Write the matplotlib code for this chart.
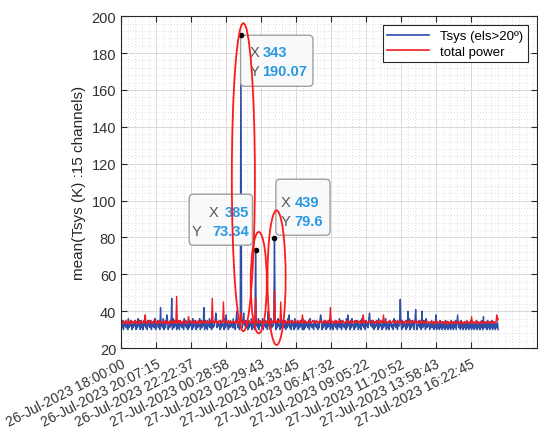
import numpy as np
import matplotlib
matplotlib.use("Agg")
import matplotlib.pyplot as plt
from matplotlib.patches import Ellipse, FancyBboxPatch
from matplotlib.lines import Line2D
from matplotlib.ticker import MultipleLocator

plt.rcParams['font.family'] = ['Liberation Sans', 'DejaVu Sans']

# Tsys (blue), one value every 2 samples (odd sample numbers 1..1079)
tsys_text = """
33 31 35 30 34 32 35 31 33 30 36 31 34 32 35 30 33 31 34 32
35 30 33 31 36 32 34 30 35 31 33 30 34 32 36 31 33 30 35 32
34 31 35 30 33 32 34 31 36 30 33 32 35 31 34 30 35 32 33 31
36 30 34 31 33 32 35 30 34 31 35 32 33 30 36 31 34 32 35 30
33 31 34 30 35 32 33 31 34 30 36 32 35 31 33 30 34 31 35 32
34 30 36 31 33 32 35 30 34 31 33 32 36 30 35 31 34 32 33 30
35 31 33 30 34 32 36 31 35 30 34 31 33 32 35 30 36 31 34 32
33 30 35 31 34 32 33 30 36 31 35 32 34 30 33 31 35 32 34 31
36 31 34 30 35 32 34 31 33 30 35 32 36 31 34 30 33 32 35 31
34 30 35 31 33 32 36 30 34 31 35 30 33 32 34 31 36 30 35 32
33 31 36 30 34 32 35 31 33 30 34 32 35 30 36 31 33 32 34 30
35 30 34 31 36 32 33 30 35 31 34 32 33 31 35 30 34 31 36 32
34 31 33 30 35 32 34 30 36 31 33 32 35 30 34 31 35 32 33 30
36 30 35 31 34 32 33 31 35 30 36 32 34 31 33 30 35 32 34 31
33 30 34 31 35 32 36 30 33 31 34 32 35 30 34 31 33 32 36 30
35 31 33 30 34 32 35 31 34 30 33 32 36 31 35 30 34 32 33 31
34 30 36 31 33 32 34 30 35 31 36 32 33 30 34 31 35 32 34 30
33 31 35 30 36 32 34 31 33 30 35 32 34 31 36 30 33 32 35 31
35 30 34 31 33 32 35 30 36 31 34 32 33 30 35 31 34 32 36 30
34 31 33 30 35 32 34 31 33 30 36 32 35 31 34 30 33 32 35 31
33 30 35 31 34 32 33 30 35 31 34 32 36 30 33 31 35 32 34 30
35 31 34 30 33 32 35 31 34 30 33 31 35 32 34 30 36 31 33 32
34 30 33 31 35 31 34 30 33 31 35 30 34 31 33 30 35 31 34 30
33 31 34 30 35 31 33 30 34 31 33 30 35 31 34 30 33 31 35 30
34 30 33 31 34 30 35 31 33 30 34 31 33 30 35 31 34 30 33 31
35 30 34 31 33 30 34 31 35 30 33 31 34 30 33 31 35 30 34 31
33 31 34 30 35 31 33 30 34 31 35 30 33 31 34 30 33 31 34 30
"""

# total power (red), same sampling
power_text = """
33.5 34 33 34.5 34 33.5 35 34 33.5 34.5 34 33 34 35 33.5 34 34.5 33.5 34 35
34 33.5 34.5 34 33 34 35 33.5 34 34.5 33.5 34 35 34 33.5 34.5 34 33 34.5 34
35 34 33.5 34 34.5 33.5 34 35.5 34 33.5 34 34.5 33 34 35 34 33.5 34.5 34 33.5
34 34.5 33.5 35 34 33.5 34.5 34 33 34 35 34 33.5 34.5 34 33.5 35 34 33.5 34
33.5 34 35 34 33.5 34.5 34 33 34.5 35 34 33.5 34 34.5 33.5 34 35 34.5 34 33.5
34.5 34 33.5 34 35 34 33.5 34.5 34 33.5 35 34 33 34.5 34 35 33.5 34 34.5 34
34 33.5 34.5 35 34 33.5 34 34.5 35 34 33.5 34 34.5 33.5 34 35 34 33.5 34.5 34
35 34 33.5 34 34.5 34 33 34 35 34.5 34 33.5 34 35 34 33.5 34.5 34 33.5 34.5
34 34.5 34 33.5 35 34 34.5 33.5 34 35 34 33.5 34.5 34 33 34.5 35 34 33.5 34
33.5 34 35 34.5 34 33.5 34 35 34 33.5 34.5 34 35 33.5 34 34.5 34 33.5 35 34
34.5 34 33.5 34 35 34 33.5 34.5 34 35 33.5 34 34.5 34 33.5 35 34 34.5 33.5 34
34 35 34 33.5 34.5 34 35 34 33.5 34 34.5 35 34 33.5 34 34.5 33.5 34 35 34
33.5 34.5 34 35 34 33.5 34 34.5 35 34 33.5 34 35 34.5 34 33.5 34 35 34 33.5
34 33.5 35 34 34.5 34 33.5 34 35 34.5 34 33.5 34 34.5 35 34 33.5 34.5 34 35
34.5 34 33.5 34.5 34 35 34 33.5 34 34.5 35 34 33.5 34 34.5 34 35 33.5 34 34.5
34 35 34 33.5 34.5 34 33.5 35 34 34.5 33.5 34 35 34 33.5 34.5 34 35 34 33.5
33.5 34 34.5 35 34 33.5 34.5 34 35 34 33.5 34 34.5 34 35 33.5 34 34.5 35 34
34 34.5 34 33.5 35 34 34.5 33.5 34 35 34.5 34 33.5 34 34.5 35 34 33.5 34 34.5
35 34 33.5 34.5 34 35 34 33.5 34.5 34 33.5 35 34 34.5 34 33.5 34 35 34.5 34
34 33.5 34.5 34 35 34 33.5 34 34.5 35 34 33.5 34.5 34 33.5 35 34 34.5 34 33.5
33.5 34 35 34 33.5 34.5 34 35 34 33.5 34 34.5 33.5 34 35 34 33.5 34.5 34 35
34.5 34 33.5 34 34.5 33.5 34 35 33.5 34 34.5 34 33.5 34 35 34 33.5 34 34.5 34
34 33.5 34 34.5 33.5 34 33 34.5 34 33.5 34 35 34 33.5 34 34.5 33.5 34 33.5 34.5
33.5 34 34.5 33.5 34 33 34 34.5 33.5 34 33.5 34.5 34 33 34 34.5 33.5 34 34.5 33.5
34 33.5 34 34.5 33.5 34 34.5 33.5 34 33 34 34.5 33.5 34 34.5 34 33.5 34 33.5 34.5
33.5 34 33.5 34.5 34 33.5 34 34.5 33.5 34 34.5 33.5 34 33 34.5 34 33.5 34 34.5 34
34 33.5 34.5 34 33.5 34 34.5 33.5 34 34.5 33.5 34 33.5 34.5 34 33.5 34 34.5 35 36
"""

# spikes (sample number, value)
tsys_spike_idx = [113, 131, 145, 237, 271, 301, 331, 343, 351, 385, 421, 439,
                  481, 571, 649, 711, 799, 821, 843, 861, 901, 963, 1037]
tsys_spike_val = [42, 38, 47, 42, 39, 38, 40, 190.07, 39, 73.34, 40, 79.6,
                  38, 38, 38, 39, 46.5, 40, 41, 40, 38, 38, 37]
power_spike_idx = [69, 159, 193, 261, 293, 343, 385, 439, 457, 519, 599, 693,
                   751, 1003, 1075]
power_spike_val = [38, 48, 37, 47, 45, 39, 47, 51, 45, 38, 42, 38, 38, 37, 38]

tip_idx = [343, 385, 439]

tick_pos = [0, 100, 200, 300, 400, 500, 600, 700, 800, 900, 1000]
tick_labels = ['26-Jul-2023 18:00:00', '26-Jul-2023 20:07:15',
               '26-Jul-2023 22:22:37', '27-Jul-2023 00:28:58',
               '27-Jul-2023 02:29:43', '27-Jul-2023 04:33:45',
               '27-Jul-2023 06:47:32', '27-Jul-2023 09:05:22',
               '27-Jul-2023 11:20:52', '27-Jul-2023 13:58:43',
               '27-Jul-2023 16:22:45']

tsys = np.array(tsys_text.split(), dtype=float)
power = np.array(power_text.split(), dtype=float)
x = np.arange(1, 2 * len(tsys), 2)
for i, v in zip(tsys_spike_idx, tsys_spike_val):
    tsys[(i - 1) // 2] = v
for i, v in zip(power_spike_idx, power_spike_val):
    power[(i - 1) // 2] = v

BLUE = '#2d4fa8'
RED = '#f01c24'
TIPBLUE = '#2a98de'
GRAY = '#555555'

fig = plt.figure(figsize=(5.38, 4.31), dpi=100)
ax = fig.add_axes([0.225, 0.19, 0.773, 0.77])

ax.plot(x, tsys, color=BLUE, lw=1.0)
ax.plot(x, power, color=RED, lw=1.0)

ax.set_xlim(0, 1190)
ax.set_ylim(20, 200)
ax.set_xticks(tick_pos)
ax.set_xticklabels(tick_labels, rotation=27, ha='right',
                   rotation_mode='anchor', fontsize=10, color='#333333')
ax.set_yticks(np.arange(20, 201, 20))
ax.tick_params(axis='y', labelsize=10.5, labelcolor='#333333')
ax.xaxis.set_minor_locator(MultipleLocator(20))
ax.yaxis.set_minor_locator(MultipleLocator(4))
ax.tick_params(which='both', direction='in', top=True, right=True,
               color='#262626')
ax.tick_params(which='major', length=4)
ax.tick_params(axis='x', which='major', pad=6)
ax.tick_params(which='minor', length=0)
ax.grid(which='major', color='#d9d9d9', lw=0.7)
ax.grid(which='minor', color='#d4d4d4', lw=0.6, ls=(0, (1, 2.5)))
ax.set_axisbelow(True)
for s in ax.spines.values():
    s.set_color('#262626')
    s.set_linewidth(0.8)

ax.set_ylabel('mean(Tsys (K) :15 channels)', fontsize=11, color='#262626')

# data tips
for i in tip_idx:
    ax.plot(i, tsys[(i - 1) // 2], 'o', color='black', ms=3, zorder=6)

aspect = (180 / 332) / (1190 / 416)
boxes = [(342, 162, 207, 27.7), (195, 75.8, 181, 27.7), (443, 81.2, 155, 30.4)]
for bx, by, bw, bh in boxes:
    ax.add_patch(FancyBboxPatch((bx, by), bw, bh,
                                boxstyle='round,pad=0,rounding_size=12',
                                mutation_aspect=aspect, fc='#f7f9fb',
                                ec='#a0a0a0', lw=1.0, zorder=5))

def tip_text(lx, vx, yx, yy, i, ha='left'):
    xv = f"{i}"
    yv = f"{round(tsys[(i - 1) // 2], 2):g}"
    ax.text(lx[0], yx, 'X', ha='right', va='center', color=GRAY,
            fontsize=10.5, zorder=7)
    ax.text(lx[1], yy, 'Y', ha='right', va='center', color=GRAY,
            fontsize=10.5, zorder=7)
    ax.text(vx, yx, xv, ha=ha, va='center', color=TIPBLUE,
            fontsize=10.5, fontweight='bold', zorder=7)
    ax.text(vx, yy, yv, ha=ha, va='center', color=TIPBLUE,
            fontsize=10.5, fontweight='bold', zorder=7)

tip_text((396, 396), 405, 180.5, 170.2, tip_idx[0])
tip_text((279, 231), 366, 93.7, 83.4, tip_idx[1], ha='right')
tip_text((484, 484), 497, 99.1, 88.9, tip_idx[2])

# red ellipses
for cx, cy, w, h in [(350, 112.7, 66, 167), (394, 55.5, 46, 55),
                     (445, 58.2, 52, 73)]:
    ax.add_patch(Ellipse((cx, cy), w, h, fill=False, ec='#ff1a1a',
                         lw=1.3, zorder=8))

handles = [Line2D([], [], color=BLUE, lw=1.2),
           Line2D([], [], color=RED, lw=1.2)]
leg = ax.legend(handles, ['Tsys (els>20º)', 'total power'], loc='upper right',
                fontsize=9.5, fancybox=False, edgecolor='#262626',
                framealpha=1, handlelength=3.2, borderaxespad=0.7,
                borderpad=0.35, labelspacing=0.25)
leg.get_frame().set_linewidth(0.8)

fig.savefig('out.png', dpi=100)
